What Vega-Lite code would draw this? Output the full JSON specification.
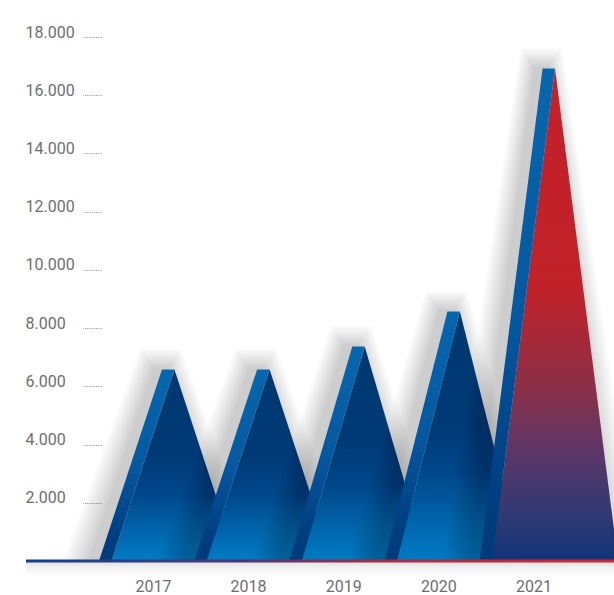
{
  "$schema": "https://vega.github.io/schema/vega-lite/v6.json",
  "width": 588,
  "height": 534,
  "autosize": {"type": "none"},
  "padding": {"left": 26, "top": 32, "right": 0, "bottom": 29},
  "background": "white",
  "config": {
    "view": {"stroke": null},
    "axis": {"labelFont": "Roboto", "labelFontSize": 16, "labelColor": "#6e6e6e", "grid": false, "domain": false, "title": null}
  },
  "datasets": {
    "sales": [
      {"year": 2017, "value": 6580},
      {"year": 2018, "value": 6580},
      {"year": 2019, "value": 7370},
      {"year": 2020, "value": 8570},
      {"year": 2021, "value": 16920}
    ]
  },
  "layer": [
    {
      "data": {"values": [{}]},
      "mark": {"type": "bar", "orient": "horizontal", "fill": {"gradient": "linear", "x1": 0, "y1": 0, "x2": 0, "y2": 1, "stops": [
        {"offset": 0, "color": "rgba(0,0,0,0.13)"}, {"offset": 0.4, "color": "rgba(0,0,0,0.05)"}, {"offset": 1, "color": "rgba(0,0,0,0)"}]}},
      "encoding": {
        "x": {"datum": 2015.44, "type": "quantitative", "scale": {"domain": [2015.44, 2021.62], "nice": false, "zero": false},
          "axis": {"values": [2017, 2018, 2019, 2020, 2021], "ticks": false, "tickSize": 0, "labelOffset": -21.5, "labelPadding": 20.5, "labelBaseline": "middle", "labelExpr": "datum.value", "labelFlush": false}},
        "x2": {"datum": 2021.62},
        "y": {"datum": 0, "type": "quantitative", "scale": {"domain": [0, 18000], "nice": false},
          "axis": {"values": [2000, 4000, 6000, 8000, 10000, 12000, 14000, 16000, 18000], "offset": -75, "tickSize": 18, "tickColor": "#8a8a8a", "tickDash": [1, 1.2], "tickWidth": 1, "labelAlign": "left", "labelPadding": 58, "labelBaseline": "alphabetic", "labelExpr": "replace(format(datum.value, ','), ',', '.')"}},
        "y2": {"datum": -550}
      }
    },
    {
      "data": {"name": "sales"},
      "transform": [{"filter": "datum.year == 2017"}],
      "layer": [
        {
          "transform": [
            {"calculate": "[1,2,3,4,5,6,7,8,9,10]", "as": "s"}, {"flatten": ["s"]},
            {"calculate": "[0,1,2,3]", "as": "k"}, {"flatten": ["k"]},
            {"calculate": "datum.year - 0.08 + [-0.793 - datum.s*0.03, -0.131 - datum.s*0.015, datum.s*0.015, 0.662 + datum.s*0.03][datum.k]", "as": "px"},
            {"calculate": "[0, datum.value + datum.s*70, datum.value + datum.s*70, 0][datum.k]", "as": "py"}
          ],
          "mark": {"type": "area", "clip": true, "fill": "#000000", "fillOpacity": 0.02},
          "encoding": {"x": {"field": "px", "type": "quantitative"}, "y": {"field": "py", "type": "quantitative", "stack": null}, "detail": {"field": "s"}}
        },
        {
          "transform": [
            {"calculate": "[0,1,2]", "as": "k"}, {"flatten": ["k"]},
            {"calculate": "datum.year + [-0.662, 0, 0.662][datum.k]", "as": "px"},
            {"calculate": "datum.value * [0, 1, 0][datum.k]", "as": "py"}
          ],
          "mark": {"type": "area", "clip": true, "fill": {"gradient": "linear", "x1": 0, "y1": 0, "x2": 0, "y2": 1, "stops": [
            {"offset": 0, "color": "#00386f"}, {"offset": 0.45, "color": "#003a76"}, {"offset": 0.65, "color": "#00478a"}, {"offset": 0.85, "color": "#0066ad"}, {"offset": 1, "color": "#007cc4"}]}},
          "encoding": {"x": {"field": "px", "type": "quantitative"}, "y": {"field": "py", "type": "quantitative", "stack": null}}
        },
        {
          "transform": [
            {"calculate": "[0,1,2,3]", "as": "k"}, {"flatten": ["k"]},
            {"calculate": "datum.year + [-0.793, -0.662, -0.131, 0][datum.k]", "as": "px"},
            {"calculate": "datum.value * [0, 0.1979, 1, 1][datum.k]", "as": "py"},
            {"calculate": "datum.value * [0, 0, 0.8021, 1][datum.k]", "as": "py2"}
          ],
          "mark": {"type": "area", "clip": true, "fill": {"gradient": "linear", "x1": 0, "y1": 0, "x2": 0, "y2": 1, "stops": [
            {"offset": 0, "color": "#0767ad"}, {"offset": 0.5, "color": "#0558a0"}, {"offset": 0.85, "color": "#003f82"}, {"offset": 1, "color": "#003a7a"}]}},
          "encoding": {"x": {"field": "px", "type": "quantitative"}, "y": {"field": "py", "type": "quantitative"}, "y2": {"field": "py2"}}
        }
      ]
    },
    {
      "data": {"name": "sales"},
      "transform": [{"filter": "datum.year == 2018"}],
      "layer": [
        {
          "transform": [
            {"calculate": "[1,2,3,4,5,6,7,8,9,10]", "as": "s"}, {"flatten": ["s"]},
            {"calculate": "[0,1,2,3]", "as": "k"}, {"flatten": ["k"]},
            {"calculate": "datum.year - 0.08 + [-0.793 - datum.s*0.03, -0.131 - datum.s*0.015, datum.s*0.015, 0.662 + datum.s*0.03][datum.k]", "as": "px"},
            {"calculate": "[0, datum.value + datum.s*70, datum.value + datum.s*70, 0][datum.k]", "as": "py"}
          ],
          "mark": {"type": "area", "clip": true, "fill": "#000000", "fillOpacity": 0.02},
          "encoding": {"x": {"field": "px", "type": "quantitative"}, "y": {"field": "py", "type": "quantitative", "stack": null}, "detail": {"field": "s"}}
        },
        {
          "transform": [
            {"calculate": "[0,1,2]", "as": "k"}, {"flatten": ["k"]},
            {"calculate": "datum.year + [-0.662, 0, 0.662][datum.k]", "as": "px"},
            {"calculate": "datum.value * [0, 1, 0][datum.k]", "as": "py"}
          ],
          "mark": {"type": "area", "clip": true, "fill": {"gradient": "linear", "x1": 0, "y1": 0, "x2": 0, "y2": 1, "stops": [
            {"offset": 0, "color": "#00386f"}, {"offset": 0.45, "color": "#003a76"}, {"offset": 0.65, "color": "#00478a"}, {"offset": 0.85, "color": "#0066ad"}, {"offset": 1, "color": "#007cc4"}]}},
          "encoding": {"x": {"field": "px", "type": "quantitative"}, "y": {"field": "py", "type": "quantitative", "stack": null}}
        },
        {
          "transform": [
            {"calculate": "[0,1,2,3]", "as": "k"}, {"flatten": ["k"]},
            {"calculate": "datum.year + [-0.793, -0.662, -0.131, 0][datum.k]", "as": "px"},
            {"calculate": "datum.value * [0, 0.1979, 1, 1][datum.k]", "as": "py"},
            {"calculate": "datum.value * [0, 0, 0.8021, 1][datum.k]", "as": "py2"}
          ],
          "mark": {"type": "area", "clip": true, "fill": {"gradient": "linear", "x1": 0, "y1": 0, "x2": 0, "y2": 1, "stops": [
            {"offset": 0, "color": "#0767ad"}, {"offset": 0.5, "color": "#0558a0"}, {"offset": 0.85, "color": "#003f82"}, {"offset": 1, "color": "#003a7a"}]}},
          "encoding": {"x": {"field": "px", "type": "quantitative"}, "y": {"field": "py", "type": "quantitative"}, "y2": {"field": "py2"}}
        }
      ]
    },
    {
      "data": {"name": "sales"},
      "transform": [{"filter": "datum.year == 2019"}],
      "layer": [
        {
          "transform": [
            {"calculate": "[1,2,3,4,5,6,7,8,9,10]", "as": "s"}, {"flatten": ["s"]},
            {"calculate": "[0,1,2,3]", "as": "k"}, {"flatten": ["k"]},
            {"calculate": "datum.year - 0.08 + [-0.793 - datum.s*0.03, -0.131 - datum.s*0.015, datum.s*0.015, 0.662 + datum.s*0.03][datum.k]", "as": "px"},
            {"calculate": "[0, datum.value + datum.s*70, datum.value + datum.s*70, 0][datum.k]", "as": "py"}
          ],
          "mark": {"type": "area", "clip": true, "fill": "#000000", "fillOpacity": 0.02},
          "encoding": {"x": {"field": "px", "type": "quantitative"}, "y": {"field": "py", "type": "quantitative", "stack": null}, "detail": {"field": "s"}}
        },
        {
          "transform": [
            {"calculate": "[0,1,2]", "as": "k"}, {"flatten": ["k"]},
            {"calculate": "datum.year + [-0.662, 0, 0.662][datum.k]", "as": "px"},
            {"calculate": "datum.value * [0, 1, 0][datum.k]", "as": "py"}
          ],
          "mark": {"type": "area", "clip": true, "fill": {"gradient": "linear", "x1": 0, "y1": 0, "x2": 0, "y2": 1, "stops": [
            {"offset": 0, "color": "#00386f"}, {"offset": 0.45, "color": "#003a76"}, {"offset": 0.65, "color": "#00478a"}, {"offset": 0.85, "color": "#0066ad"}, {"offset": 1, "color": "#007cc4"}]}},
          "encoding": {"x": {"field": "px", "type": "quantitative"}, "y": {"field": "py", "type": "quantitative", "stack": null}}
        },
        {
          "transform": [
            {"calculate": "[0,1,2,3]", "as": "k"}, {"flatten": ["k"]},
            {"calculate": "datum.year + [-0.793, -0.662, -0.131, 0][datum.k]", "as": "px"},
            {"calculate": "datum.value * [0, 0.1979, 1, 1][datum.k]", "as": "py"},
            {"calculate": "datum.value * [0, 0, 0.8021, 1][datum.k]", "as": "py2"}
          ],
          "mark": {"type": "area", "clip": true, "fill": {"gradient": "linear", "x1": 0, "y1": 0, "x2": 0, "y2": 1, "stops": [
            {"offset": 0, "color": "#0767ad"}, {"offset": 0.5, "color": "#0558a0"}, {"offset": 0.85, "color": "#003f82"}, {"offset": 1, "color": "#003a7a"}]}},
          "encoding": {"x": {"field": "px", "type": "quantitative"}, "y": {"field": "py", "type": "quantitative"}, "y2": {"field": "py2"}}
        }
      ]
    },
    {
      "data": {"name": "sales"},
      "transform": [{"filter": "datum.year == 2020"}],
      "layer": [
        {
          "transform": [
            {"calculate": "[1,2,3,4,5,6,7,8,9,10]", "as": "s"}, {"flatten": ["s"]},
            {"calculate": "[0,1,2,3]", "as": "k"}, {"flatten": ["k"]},
            {"calculate": "datum.year - 0.08 + [-0.793 - datum.s*0.03, -0.131 - datum.s*0.015, datum.s*0.015, 0.662 + datum.s*0.03][datum.k]", "as": "px"},
            {"calculate": "[0, datum.value + datum.s*70, datum.value + datum.s*70, 0][datum.k]", "as": "py"}
          ],
          "mark": {"type": "area", "clip": true, "fill": "#000000", "fillOpacity": 0.02},
          "encoding": {"x": {"field": "px", "type": "quantitative"}, "y": {"field": "py", "type": "quantitative", "stack": null}, "detail": {"field": "s"}}
        },
        {
          "transform": [
            {"calculate": "[0,1,2]", "as": "k"}, {"flatten": ["k"]},
            {"calculate": "datum.year + [-0.662, 0, 0.662][datum.k]", "as": "px"},
            {"calculate": "datum.value * [0, 1, 0][datum.k]", "as": "py"}
          ],
          "mark": {"type": "area", "clip": true, "fill": {"gradient": "linear", "x1": 0, "y1": 0, "x2": 0, "y2": 1, "stops": [
            {"offset": 0, "color": "#00386f"}, {"offset": 0.45, "color": "#003a76"}, {"offset": 0.65, "color": "#00478a"}, {"offset": 0.85, "color": "#0066ad"}, {"offset": 1, "color": "#007cc4"}]}},
          "encoding": {"x": {"field": "px", "type": "quantitative"}, "y": {"field": "py", "type": "quantitative", "stack": null}}
        },
        {
          "transform": [
            {"calculate": "[0,1,2,3]", "as": "k"}, {"flatten": ["k"]},
            {"calculate": "datum.year + [-0.793, -0.662, -0.131, 0][datum.k]", "as": "px"},
            {"calculate": "datum.value * [0, 0.1979, 1, 1][datum.k]", "as": "py"},
            {"calculate": "datum.value * [0, 0, 0.8021, 1][datum.k]", "as": "py2"}
          ],
          "mark": {"type": "area", "clip": true, "fill": {"gradient": "linear", "x1": 0, "y1": 0, "x2": 0, "y2": 1, "stops": [
            {"offset": 0, "color": "#0767ad"}, {"offset": 0.5, "color": "#0558a0"}, {"offset": 0.85, "color": "#003f82"}, {"offset": 1, "color": "#003a7a"}]}},
          "encoding": {"x": {"field": "px", "type": "quantitative"}, "y": {"field": "py", "type": "quantitative"}, "y2": {"field": "py2"}}
        }
      ]
    },
    {
      "data": {"name": "sales"},
      "transform": [{"filter": "datum.year == 2021"}],
      "layer": [
        {
          "transform": [
            {"calculate": "[1,2,3,4,5,6,7,8,9,10]", "as": "s"}, {"flatten": ["s"]},
            {"calculate": "[0,1,2,3]", "as": "k"}, {"flatten": ["k"]},
            {"calculate": "datum.year - 0.08 + [-0.793 - datum.s*0.03, -0.131 - datum.s*0.015, datum.s*0.015, 0.662 + datum.s*0.03][datum.k]", "as": "px"},
            {"calculate": "[0, datum.value + datum.s*70, datum.value + datum.s*70, 0][datum.k]", "as": "py"}
          ],
          "mark": {"type": "area", "clip": true, "fill": "#000000", "fillOpacity": 0.02},
          "encoding": {"x": {"field": "px", "type": "quantitative"}, "y": {"field": "py", "type": "quantitative", "stack": null}, "detail": {"field": "s"}}
        },
        {
          "transform": [
            {"calculate": "[0,1,2]", "as": "k"}, {"flatten": ["k"]},
            {"calculate": "datum.year + [-0.662, 0, 0.662][datum.k]", "as": "px"},
            {"calculate": "datum.value * [0, 1, 0][datum.k]", "as": "py"}
          ],
          "mark": {"type": "area", "clip": true, "fill": {"gradient": "linear", "x1": 0, "y1": 0, "x2": 0, "y2": 1, "stops": [
            {"offset": 0, "color": "#c4202a"}, {"offset": 0.45, "color": "#c12229"}, {"offset": 0.65, "color": "#8a3048"}, {"offset": 0.78, "color": "#5c3668"}, {"offset": 0.9, "color": "#323a72"}, {"offset": 1, "color": "#11347a"}]}},
          "encoding": {"x": {"field": "px", "type": "quantitative"}, "y": {"field": "py", "type": "quantitative", "stack": null}}
        },
        {
          "transform": [
            {"calculate": "[0,1,2,3]", "as": "k"}, {"flatten": ["k"]},
            {"calculate": "datum.year + [-0.793, -0.662, -0.131, 0][datum.k]", "as": "px"},
            {"calculate": "datum.value * [0, 0.1979, 1, 1][datum.k]", "as": "py"},
            {"calculate": "datum.value * [0, 0, 0.8021, 1][datum.k]", "as": "py2"}
          ],
          "mark": {"type": "area", "clip": true, "fill": {"gradient": "linear", "x1": 0, "y1": 0, "x2": 0, "y2": 1, "stops": [
            {"offset": 0, "color": "#0767ad"}, {"offset": 0.5, "color": "#0558a0"}, {"offset": 0.85, "color": "#003f82"}, {"offset": 1, "color": "#003a7a"}]}},
          "encoding": {"x": {"field": "px", "type": "quantitative"}, "y": {"field": "py", "type": "quantitative"}, "y2": {"field": "py2"}}
        }
      ]
    },
    {
      "data": {"values": [{}]},
      "mark": {"type": "bar", "height": 3, "orient": "horizontal", "fill": {"gradient": "linear", "x1": 0, "y1": 0, "x2": 1, "y2": 0, "stops": [
        {"offset": 0, "color": "#153e8a"}, {"offset": 0.15, "color": "#2a3e82"}, {"offset": 0.36, "color": "#4a3878"}, {"offset": 0.6, "color": "#a03048"}, {"offset": 0.8, "color": "#bf2a3a"}, {"offset": 1, "color": "#c8283a"}]}},
      "encoding": {
        "x": {"datum": 2015.44, "type": "quantitative"},
        "x2": {"datum": 2021.62},
        "y": {"datum": 0, "type": "quantitative"}
      }
    }
  ]
}
